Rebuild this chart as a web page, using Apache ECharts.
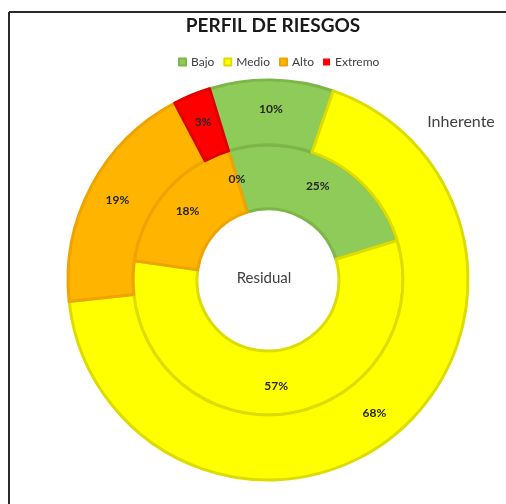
<!DOCTYPE html>
<html>
<head>
<meta charset="utf-8">
<script src="https://cdn.jsdelivr.net/npm/echarts@6/dist/echarts.min.js"></script>
<style>
html,body{margin:0;padding:0;background:#fff;}
#chart{width:506px;height:504px;}
</style>
</head>
<body>
<div id="chart"></div>
<script>
const categories = ['Bajo', 'Medio', 'Alto', 'Extremo'];
const inherente = [10, 68, 19, 3];
const residual = [25, 57, 18, 0];
const seriesNames = ['Inherente', 'Residual'];
const chartTitle = 'PERFIL DE RIESGOS';

const fills = ['#8FCB58', '#FFFF00', '#FFB400', '#FF0000'];
const edges = ['#7DB548', '#DCDC00', '#EEA300', '#E00000'];
const FONT = 'Lato';

function buildData(values) {
  return categories.map((c, i) => ({
    name: c,
    value: values[i],
    itemStyle: {
      color: fills[i],
      borderColor: edges[i],
      borderWidth: values[i] === 0 ? 0 : 3
    }
  }));
}

const labelCfg = {
  show: true,
  position: 'inside',
  formatter: p => p.value + '%',
  fontFamily: FONT,
  fontWeight: 'bold',
  fontSize: 12,
  color: '#262626'
};

const chart = echarts.init(document.getElementById('chart'), null, {renderer: 'canvas'});
chart.setOption({
  animation: false,
  backgroundColor: '#ffffff',
  legend: {
    data: categories,
    left: 173,
    top: 51,
    icon: 'rect',
    itemWidth: 7,
    itemHeight: 7,
    itemGap: 9,
    selectedMode: false,
    textStyle: {fontFamily: FONT, fontSize: 12, color: '#404040'}
  },
  graphic: [
    {type: 'line', shape: {x1: 9, y1: 12, x2: 506, y2: 12}, style: {stroke: '#2a2a2a', lineWidth: 2}},
    {type: 'line', shape: {x1: 9, y1: 12, x2: 9, y2: 504}, style: {stroke: '#2a2a2a', lineWidth: 2}},
    {type: 'text', x: 273, y: 26, style: {text: chartTitle, textAlign: 'center', textVerticalAlign: 'middle', fontFamily: FONT, fontWeight: 'bold', fontSize: 19, fill: '#1a1a1a'}},
    {type: 'text', x: 461, y: 122, style: {text: seriesNames[0], textAlign: 'center', textVerticalAlign: 'middle', fontFamily: FONT, fontSize: 16, fill: '#404040'}},
    {type: 'text', x: 264, y: 278, style: {text: seriesNames[1], textAlign: 'center', textVerticalAlign: 'middle', fontFamily: FONT, fontSize: 15, fill: '#404040'}}
  ],
  series: [
    {
      name: seriesNames[1],
      type: 'pie',
      center: [268, 280],
      radius: [71, 135],
      startAngle: 107,
      clockwise: true,
      silent: true,
      label: labelCfg,
      labelLine: {show: false},
      emphasis: {disabled: true},
      data: buildData(residual)
    },
    {
      name: seriesNames[0],
      type: 'pie',
      center: [268, 280],
      radius: [135, 200],
      startAngle: 107,
      clockwise: true,
      silent: true,
      label: labelCfg,
      labelLine: {show: false},
      emphasis: {disabled: true},
      data: buildData(inherente)
    }
  ]
});
</script>
</body>
</html>
